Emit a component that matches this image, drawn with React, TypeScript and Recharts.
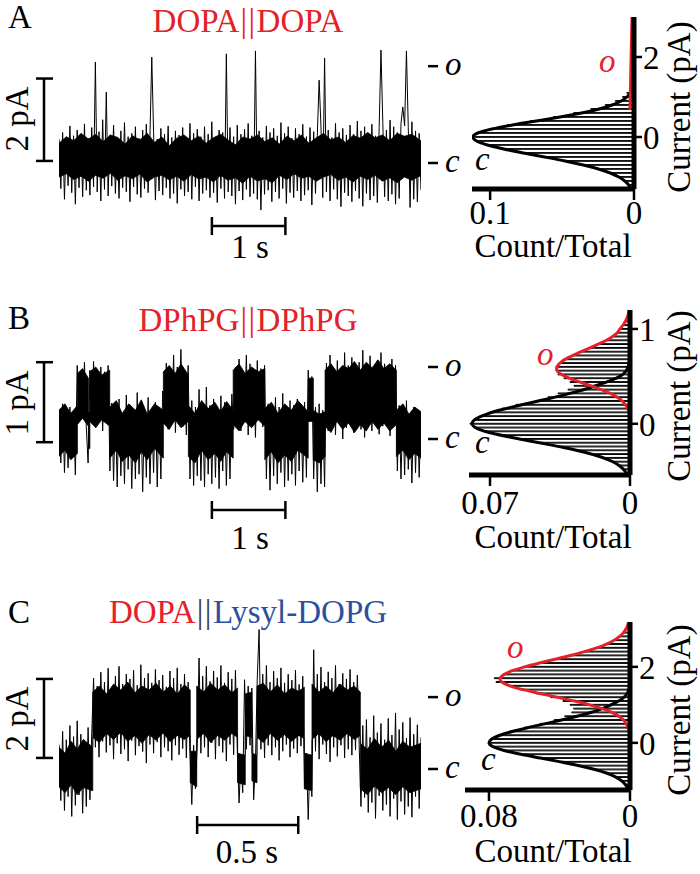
import React from 'react';
import { ComposedChart, Line, Area, Bar, XAxis, YAxis, ReferenceLine } from 'recharts';

const SERIF = "'Liberation Serif', 'Times New Roman', Times, 'DejaVu Serif', serif";
const RED = '#e42128';
const BLUE = '#2c509f';
const FS = 33;

// ---------------- Panel A : DOPA||DOPA ----------------
const A_DURATION = 4.925; // s
const A_OPEN_LEVEL = 2.35; // pA (level marked "o")
// noise extremes (hairs), sampled evenly over the trace
const A_TRACE = [
  0.58, -0.62, 0.74, -0.88, 0.62, -0.55, 0.90, -0.72, 0.66, -1.00,
  0.80, -0.60, 0.70, -0.82, 0.95, -0.66, 0.60, -0.78, 0.86, -0.58,
  2.45, -0.70, 0.76, -0.92, 1.05, -0.64, 1.72, -0.80, 0.68, -0.56,
  0.92, -0.74, 0.62, -0.86, 0.78, -0.60, 0.98, -0.70, 0.64, -0.94,
  0.72, -0.58, 0.88, -0.76, 0.60, -0.84, 0.80, -0.62, 0.94, -0.72,
  0.66, 2.57, 0.74, -0.90, 0.58, -0.68, 0.84, -0.78, 0.70, -0.60,
  0.90, -0.86, 0.62, -0.74, 0.78, -0.98, 0.68, -0.64, 0.86, -0.80,
  0.60, -0.70, 0.96, -0.88, 0.72, -0.58, 0.82, -0.92, 0.64, -0.74,
  0.88, -0.66, 0.70, -0.84, 1.00, -0.72, 0.62, -0.96, 0.80, -0.62,
  0.74, -0.86, 2.65, -0.70, 0.86, -0.80, 0.64, -1.00, 0.92, -0.68,
  0.70, -0.90, 0.82, -0.64, 0.96, -0.82, 0.66, -0.74, 2.72, -0.88,
  0.78, -1.14, 0.62, -0.76, 0.90, -0.66, 0.74, -0.94, 0.84, -0.70,
  0.66, -0.86, 0.98, -0.62, 0.72, -0.98, 0.88, -0.72, 0.60, -0.84,
  0.84, -0.68, 0.70, -0.92, 0.94, -0.78, 0.64, -0.66, 0.86, -1.02,
  0.76, -0.74, 0.66, 2.01, 0.90, -0.84, 2.55, -0.70, 0.80, -0.92,
  0.62, -0.64, 0.96, -0.88, 0.74, -1.06, 0.84, -0.72, 0.68, -0.80,
  0.92, -0.94, 0.70, -0.68, 1.02, -0.86, 0.78, -1.05, 0.88, -0.74,
  0.72, -0.90, 0.94, -0.80, 0.66, -0.96, 0.86, 2.74, 0.98, -0.82,
  0.80, -0.92, 1.04, -0.76, 0.88, -1.00, 0.74, -0.86, 0.96, 1.36,
  0.90, 2.72, 0.86, -1.08, 1.00, -0.88, 0.78, -0.94, 0.72, -0.66,
];
// solid (dense) part of the trace: [t (s), low edge, high edge]
const A_CORE: [number, number, number][] = [
  [0.0, -0.34, 0.48], [0.1, -0.26, 0.64], [0.2, -0.40, 0.54], [0.3, -0.32, 0.72], [0.4, -0.44, 0.58],
  [0.5, -0.30, 0.70], [0.6, -0.37, 0.52], [0.7, -0.25, 0.68], [0.8, -0.42, 0.62], [0.9, -0.31, 0.46],
  [1.0, -0.38, 0.66], [1.1, -0.27, 0.56], [1.2, -0.46, 0.72], [1.3, -0.34, 0.50], [1.4, -0.30, 0.63],
  [1.5, -0.41, 0.42], [1.6, -0.32, 0.60], [1.7, -0.44, 0.68], [1.8, -0.28, 0.54], [1.9, -0.39, 0.65],
  [2.0, -0.34, 0.48], [2.1, -0.46, 0.61], [2.2, -0.30, 0.70], [2.3, -0.42, 0.56], [2.4, -0.36, 0.44],
  [2.5, -0.49, 0.63], [2.6, -0.32, 0.58], [2.7, -0.44, 0.68], [2.8, -0.38, 0.52], [2.9, -0.48, 0.61],
  [3.0, -0.30, 0.46], [3.1, -0.40, 0.65], [3.2, -0.26, 0.54], [3.3, -0.37, 0.68], [3.4, -0.32, 0.48],
  [3.5, -0.44, 0.61], [3.6, -0.34, 0.72], [3.7, -0.28, 0.56], [3.8, -0.42, 0.63], [3.9, -0.34, 0.50],
  [4.0, -0.46, 0.67], [4.1, -0.32, 0.60], [4.2, -0.40, 0.74], [4.3, -0.30, 0.61], [4.4, -0.44, 0.68],
  [4.5, -0.36, 0.54], [4.6, -0.48, 0.72], [4.7, -0.34, 0.65], [4.8, -0.42, 0.70], [4.9, -0.32, 0.57],
  [4.925, -0.34, 0.54],
];
const A_HIST_CURRENT = [-1.2, -1.1, -1.0, -0.9, -0.8, -0.7, -0.6, -0.5, -0.4, -0.3, -0.2, -0.1, 0, 0.1, 0.2, 0.3, 0.4, 0.5, 0.6, 0.7, 0.8, 0.9, 1.0, 1.1, 1.2, 1.3];
const A_HIST_COUNT = [0.004, 0.006, 0.010, 0.016, 0.024, 0.034, 0.046, 0.060, 0.075, 0.089, 0.100, 0.108, 0.111, 0.108, 0.100, 0.088, 0.072, 0.056, 0.042, 0.030, 0.020, 0.013, 0.008, 0.005, 0.003, 0.001];
const A_FIT_C: [number, number][] = [
  [-1.3, 0.0021], [-1.2, 0.0037], [-1.1, 0.0064], [-1.0, 0.0105], [-0.9, 0.0165], [-0.8, 0.0247],
  [-0.7, 0.0352], [-0.6, 0.0479], [-0.5, 0.0621], [-0.4, 0.0768], [-0.3, 0.0905], [-0.2, 0.1019],
  [-0.1, 0.1094], [0, 0.112], [0.1, 0.1086], [0.2, 0.0988], [0.3, 0.0845], [0.4, 0.0679],
  [0.5, 0.0513], [0.6, 0.0364], [0.7, 0.0242], [0.8, 0.0152], [0.9, 0.0089], [1.0, 0.0049],
  [1.1, 0.0026], [1.2, 0.0012],
];
const A_FIT_O: [number, number][] = [[0.68, 0.0028], [1.0, 0.0026], [1.5, 0.0023], [2.0, 0.002], [2.5, 0.0017], [3.0, 0.0014]];

// ---------------- Panel B : DPhPG||DPhPG ----------------
const B_DURATION = 4.925;
const B_OPEN_LEVEL = 0.9;
const B_TRACE = [
  0.36, -0.30, 0.44, -0.42, 0.28, -0.36, 0.40, -0.24, 0.32, -0.45,
  0.92, 0.22, 0.80, 0.30, 0.96, 0.15, -0.30, 0.86, 0.25, 0.97,
  0.18, 0.78, 0.30, 0.90, 0.10, 0.84, 0.22, 0.92, -0.40, 0.45,
  -0.52, 0.38, -0.60, 0.50, -0.46, 0.30, -0.56, 0.55, -0.38, 0.42,
  -0.62, 0.34, -0.50, 0.58, -0.44, 0.40, -0.66, 0.36, -0.48, 0.52,
  -0.56, 0.30, -0.42, 0.46, -0.60, 0.38, -0.50, 0.60, 0.20, 0.95,
  0.12, 0.84, 0.25, 1.05, 0.08, 0.90, 0.30, 1.12, 0.15, 0.82,
  0.05, 0.92, -0.50, 0.48, -0.58, 0.40, -0.46, 0.62, -0.52, 0.36,
  -0.60, 0.65, -0.44, 0.42, -0.56, 0.50, -0.48, 0.38, -0.62, 0.54,
  -0.40, 0.46, -0.58, 0.34, -0.50, 0.56, 0.12, 0.90, 0.22, 1.00,
  0.10, 0.86, 0.28, 1.05, 0.05, 0.94, 0.18, 0.80, 0.02, 0.98,
  0.24, 0.88, 0.15, 0.92, -0.50, 0.44, -0.64, 0.36, -0.46, 0.52,
  -0.56, 0.40, -0.42, 0.57, -0.60, 0.34, -0.52, 0.48, -0.44, 0.42,
  -0.58, 0.50, -0.40, 0.38, -0.54, 0.46, -0.48, 0.86, 0.30, 0.78,
  -0.50, 0.40, -0.66, 0.44, -0.56, 0.36, -0.60, 0.95, 0.10, 1.05,
  0.18, 0.88, 0.05, 0.98, 0.22, 0.84, 0.00, 1.08, 0.14, 0.92,
  0.26, 1.02, 0.08, 0.86, 0.20, 0.96, 0.12, 1.11, 0.02, 0.90,
  0.18, 1.04, 0.10, 0.82, 0.24, 0.98, 0.06, 1.08, 0.16, 0.94,
  0.20, 0.88, 0.04, 1.00, 0.15, 0.92, -0.40, 0.42, -0.50, 0.34,
  -0.45, 0.48, -0.38, 0.30, -0.55, 0.40, -0.42, 0.36, -0.48, 0.32,
];
const B_CORE: [number, number, number][] = [
  [0, -0.22, 0.36], [0.08, -0.14, 0.44], [0.16, -0.26, 0.32], [0.25, -0.18, 0.42],
  [0.25, 0.18, 0.82], [0.32, 0.26, 0.88], [0.4, 0.16, 0.76],
  [0.4, -0.12, 0.34], [0.42, -0.12, 0.34],
  [0.42, 0.22, 0.84], [0.5, 0.14, 0.9], [0.58, 0.24, 0.8], [0.69, 0.16, 0.86],
  [0.69, -0.24, 0.4], [0.78, -0.14, 0.48], [0.86, -0.28, 0.32], [0.95, -0.2, 0.44], [1.04, -0.3, 0.36],
  [1.12, -0.16, 0.49], [1.2, -0.26, 0.31], [1.3, -0.12, 0.44], [1.42, -0.24, 0.36],
  [1.42, 0.2, 0.84], [1.5, 0.12, 0.92], [1.58, 0.24, 0.82], [1.66, 0.14, 0.94], [1.76, 0.22, 0.8],
  [1.76, -0.22, 0.42], [1.85, -0.3, 0.32], [1.94, -0.14, 0.48], [2.03, -0.26, 0.38], [2.12, -0.18, 0.46],
  [2.2, -0.28, 0.34], [2.28, -0.16, 0.47], [2.37, -0.24, 0.36],
  [2.37, 0.18, 0.86], [2.45, 0.1, 0.94], [2.53, 0.22, 0.82], [2.62, 0.14, 0.9], [2.71, 0.24, 0.84], [2.8, 0.16, 0.88],
  [2.8, -0.26, 0.38], [2.89, -0.16, 0.46], [2.98, -0.3, 0.32], [3.07, -0.2, 0.44], [3.16, -0.28, 0.36],
  [3.25, -0.14, 0.48], [3.39, -0.24, 0.34],
  [3.39, 0.22, 0.76], [3.46, 0.22, 0.76],
  [3.46, -0.26, 0.36], [3.54, -0.3, 0.31], [3.62, -0.22, 0.34],
  [3.62, 0.16, 0.86], [3.7, 0.08, 0.94], [3.78, 0.22, 0.84], [3.86, 0.12, 0.92], [3.94, 0.2, 0.88],
  [4.02, 0.08, 0.97], [4.1, 0.18, 0.86], [4.18, 0.1, 0.96], [4.26, 0.22, 0.89], [4.34, 0.12, 0.99],
  [4.42, 0.2, 0.88], [4.5, 0.1, 0.94], [4.59, 0.18, 0.86],
  [4.59, -0.22, 0.36], [4.68, -0.14, 0.44], [4.76, -0.26, 0.31], [4.84, -0.18, 0.4], [4.925, -0.24, 0.34],
];
const B_HIST_CURRENT = [-0.52, -0.48, -0.44, -0.40, -0.36, -0.32, -0.28, -0.24, -0.20, -0.16, -0.12, -0.08, -0.04, 0, 0.04, 0.08, 0.12, 0.16, 0.20, 0.24, 0.28, 0.32, 0.36, 0.40, 0.44, 0.48, 0.52, 0.56, 0.60, 0.64, 0.68, 0.72, 0.76, 0.80, 0.84, 0.88, 0.92, 0.96, 1.00, 1.04, 1.08, 1.12, 1.16];
const B_HIST_COUNT = [0.002, 0.003, 0.005, 0.009, 0.013, 0.019, 0.027, 0.036, 0.046, 0.056, 0.065, 0.073, 0.078, 0.080, 0.078, 0.075, 0.070, 0.064, 0.057, 0.047, 0.041, 0.036, 0.031, 0.028, 0.030, 0.033, 0.036, 0.037, 0.037, 0.035, 0.033, 0.029, 0.025, 0.020, 0.016, 0.012, 0.009, 0.006, 0.005, 0.0035, 0.002, 0.0012, 0.0006];
const B_FIT_C: [number, number][] = [
  [-0.55, 0.0012], [-0.5, 0.0025], [-0.45, 0.0048], [-0.4, 0.0086], [-0.35, 0.0145], [-0.3, 0.0227],
  [-0.25, 0.0332], [-0.2, 0.0454], [-0.15, 0.0578], [-0.1, 0.0688], [-0.05, 0.0763], [0, 0.079],
  [0.05, 0.0772], [0.1, 0.0719], [0.15, 0.0639], [0.2, 0.0541], [0.25, 0.0438], [0.3, 0.0338],
  [0.35, 0.0248], [0.4, 0.0174], [0.45, 0.0105], [0.5, 0.005], [0.55, 0.0022], [0.6, 0.001],
  [0.65, 0.0004], [0.7, 0.0002],
];
const B_FIT_O: [number, number][] = [
  [0.1, 0.0004], [0.15, 0.001], [0.2, 0.0022], [0.25, 0.0044], [0.3, 0.0079], [0.35, 0.0131],
  [0.4, 0.0195], [0.45, 0.0264], [0.5, 0.0324], [0.55, 0.0361], [0.58, 0.0367], [0.6, 0.0365],
  [0.65, 0.0345], [0.7, 0.0307], [0.75, 0.0256], [0.8, 0.02], [0.85, 0.0148], [0.9, 0.0102],
  [0.95, 0.0068], [1.0, 0.005], [1.05, 0.0032], [1.1, 0.0018], [1.15, 0.0009], [1.2, 0.0004],
];

// ---------------- Panel C : DOPA||Lysyl-DOPG ----------------
const C_DURATION = 1.79;
const C_OPEN_LEVEL = 1.82;
const C_TRACE = [
  0.62, -0.80, 0.95, -1.05, 0.74, -0.70, 1.10, -1.20, 0.82, -0.92,
  1.22, -0.66, 0.88, -1.12, 0.70, -0.95, 1.05, -0.78, 0.90, 2.30,
  0.55, 2.10, 0.30, 2.45, 0.70, 2.20, 0.42, 2.55, 0.60, 2.05,
  0.25, 2.35, 0.65, 2.60, 0.38, 2.15, 0.50, 2.40, 0.20, 2.28,
  0.72, 2.50, 0.35, 2.12, 0.58, 2.64, 0.44, 2.30, 0.15, 2.42,
  0.62, 2.18, 0.40, 2.52, 0.68, 2.25, 0.30, 2.38, 0.55, 2.08,
  0.45, 2.48, 0.22, 2.30, 0.60, 2.56, 0.36, 2.15, 0.52, 2.40,
  0.28, 2.20, 0.40, -0.90, 0.60, -0.50, 0.65, 2.81, 0.40, 2.35,
  0.55, 2.60, 0.30, 2.22, 0.66, 2.48, 0.25, 2.32, 0.58, 2.62,
  0.42, 2.18, 0.20, 2.45, 0.62, 2.28, 0.36, 2.50, 0.48, -0.86,
  0.30, -0.60, 2.26, 0.50, 2.10, 0.60, 2.05, -0.78, 0.20, 2.30,
  3.53, 0.50, 2.40, 0.28, 2.62, 0.60, 2.20, 0.35, 2.48, 0.55,
  2.30, 0.22, 2.56, 0.45, 2.18, 0.62, 2.40, 0.30, 2.25, 0.52,
  2.50, 0.40, 2.14, 0.58, 2.35, -0.50, 0.40, -1.28, 0.30, -0.70,
  3.02, 0.45, 2.40, 0.25, 2.58, 0.62, 2.20, 0.38, 2.46, 0.18,
  2.30, 0.55, 2.62, 0.32, 2.15, 0.60, 2.42, 0.28, 2.28, 0.50,
  2.52, 0.35, 2.20, 0.48, 2.38, 0.62, -0.95, 1.10, -0.72, 1.25,
  -1.10, 0.80, -0.85, 1.35, -1.25, 0.92, -0.68, 1.15, -1.05, 0.74,
  -0.90, 1.28, -1.20, 0.86, -0.75, 1.42, -1.28, 1.00, -0.82, 1.18,
  -1.15, 0.78, -0.95, 1.30, -1.22, 0.88, -0.70, 1.12, -1.00, 0.80,
];
const C_CORE: [number, number, number][] = [
  [0, -0.45, 0.55], [0.03, -0.6, 0.4], [0.06, -0.4, 0.7], [0.09, -0.65, 0.5], [0.12, -0.47, 0.75], [0.167, -0.55, 0.55],
  [0.167, 0.8, 1.95], [0.2, 0.67, 2.1], [0.235, 0.9, 1.9], [0.27, 0.75, 2.15], [0.305, 0.93, 2.0],
  [0.34, 0.7, 2.2], [0.375, 0.85, 1.93], [0.41, 0.65, 2.1], [0.445, 0.87, 2.0], [0.48, 0.73, 2.17],
  [0.515, 0.91, 1.95], [0.55, 0.69, 2.1], [0.585, 0.85, 1.9], [0.62, 0.75, 2.13], [0.649, 0.85, 2.0],
  [0.649, -0.35, 0.45], [0.681, -0.45, 0.45],
  [0.681, 0.75, 2.1], [0.715, 0.9, 1.95], [0.75, 0.67, 2.17], [0.785, 0.85, 2.0], [0.82, 0.73, 2.13],
  [0.855, 0.9, 1.93], [0.883, 0.8, 2.05],
  [0.883, -0.35, 0.4], [0.921, -0.4, 0.35],
  [0.921, 0.85, 1.9], [0.954, 0.8, 1.95],
  [0.954, -0.3, 0.4], [0.979, -0.35, 0.35],
  [0.979, 0.8, 2.1], [1.01, 0.67, 2.17], [1.045, 0.9, 1.95], [1.08, 0.73, 2.13], [1.115, 0.87, 1.9],
  [1.15, 0.7, 2.05], [1.185, 0.85, 1.97], [1.213, 0.77, 2.07],
  [1.213, -0.5, 0.4], [1.251, -0.55, 0.35],
  [1.251, 0.75, 2.15], [1.285, 0.9, 1.95], [1.32, 0.69, 2.1], [1.355, 0.85, 1.93], [1.39, 0.73, 2.15],
  [1.425, 0.9, 2.0], [1.46, 0.75, 2.1], [1.49, 0.85, 1.95],
  [1.49, -0.5, 0.65], [1.525, -0.65, 0.5], [1.56, -0.43, 0.77], [1.595, -0.6, 0.55], [1.63, -0.47, 0.73],
  [1.665, -0.65, 0.45], [1.7, -0.45, 0.7], [1.735, -0.6, 0.55], [1.79, -0.5, 0.65],
];
const C_HIST_CURRENT = [-1.2, -1.1, -1.0, -0.9, -0.8, -0.7, -0.6, -0.5, -0.4, -0.3, -0.2, -0.1, 0, 0.1, 0.2, 0.3, 0.4, 0.5, 0.6, 0.7, 0.8, 0.9, 1.0, 1.1, 1.2, 1.3, 1.4, 1.5, 1.6, 1.7, 1.8, 1.9, 2.0, 2.1, 2.2, 2.3, 2.4, 2.5, 2.6, 2.7, 2.8, 2.9, 3.0, 3.1];
const C_HIST_COUNT = [0.0015, 0.003, 0.005, 0.008, 0.013, 0.020, 0.029, 0.039, 0.050, 0.061, 0.071, 0.077, 0.080, 0.079, 0.075, 0.068, 0.060, 0.051, 0.043, 0.037, 0.033, 0.032, 0.034, 0.038, 0.045, 0.053, 0.062, 0.069, 0.076, 0.077, 0.072, 0.067, 0.060, 0.051, 0.042, 0.034, 0.026, 0.019, 0.013, 0.009, 0.006, 0.004, 0.002, 0.001];
const C_FIT_C: [number, number][] = [
  [-1.3, 0.0007], [-1.2, 0.0014], [-1.1, 0.0026], [-1.0, 0.0047], [-0.9, 0.008], [-0.8, 0.013],
  [-0.7, 0.0199], [-0.6, 0.0288], [-0.5, 0.0394], [-0.4, 0.0508], [-0.3, 0.062], [-0.2, 0.0714],
  [-0.1, 0.0778], [0, 0.08], [0.1, 0.0784], [0.2, 0.0738], [0.3, 0.0668], [0.4, 0.0581],
  [0.5, 0.0485], [0.6, 0.0389], [0.7, 0.03], [0.8, 0.0222], [0.9, 0.0158], [1.0, 0.0108],
  [1.1, 0.0065], [1.2, 0.0035], [1.3, 0.0016], [1.4, 0.0007], [1.5, 0.0003],
];
const C_FIT_O: [number, number][] = [
  [0.3, 0.0006], [0.4, 0.0011], [0.5, 0.0021], [0.6, 0.0037], [0.7, 0.0063], [0.8, 0.0102],
  [0.9, 0.0157], [1.0, 0.0228], [1.1, 0.0314], [1.2, 0.0412], [1.3, 0.0513], [1.4, 0.0607],
  [1.5, 0.0682], [1.6, 0.0727], [1.675, 0.0738], [1.8, 0.0715], [1.9, 0.0667], [2.0, 0.0597],
  [2.1, 0.0514], [2.2, 0.0425], [2.3, 0.0338], [2.4, 0.0258], [2.5, 0.0189], [2.6, 0.0133],
  [2.7, 0.009], [2.8, 0.0059], [2.9, 0.0037], [3.0, 0.0022], [3.1, 0.0013], [3.2, 0.0007],
];

// ---------------- layout (pixels) ----------------
const TRACE_LAYOUT = {
  A: { top: 0, height: 290, zeroY: 163, pxPerPA: 41.2, yMin: -2.0, yMax: 3.0,
    vBar: { t: -0.204, from: 0.05, len: 2, cap: [-0.313, -0.082] },
    tBar: { from: 2.08, len: 1, v: -1.53, cap: [-1.31, -1.75] } },
  B: { top: 290, height: 290, zeroY: 439, pxPerPA: 80, yMin: -1.0, yMax: 1.3,
    vBar: { t: -0.204, from: -0.04, len: 1, cap: [-0.313, -0.082] },
    tBar: { from: 2.08, len: 1, v: -0.8875, cap: [-0.775, -1.0] } },
  C: { top: 580, height: 294, zeroY: 769, pxPerPA: 39.5, yMin: -1.8, yMax: 3.7,
    vBar: { t: -0.0743, from: 0.28, len: 2, cap: [-0.114, -0.0297] },
    tBar: { from: 0.683, len: 0.5, v: -1.418, cap: [-1.19, -1.646] } },
};

const HIST_LAYOUT = {
  A: { top: 0, height: 290, plotTop: 17, plotBottom: 189, plotLeft: 472, plotRight: 634,
    yMin: -1.3, yMax: 3.0, xMax: 0.1126, xTick: 0.1, yTicks: [0, 2], barPx: 3.9, xTickMargin: 1 },
  B: { top: 290, height: 290, plotTop: 310, plotBottom: 475, plotLeft: 469, plotRight: 630,
    yMin: -0.54, yMax: 1.2, xMax: 0.0805, xTick: 0.07, yTicks: [0, 1], barPx: 3.7, xTickMargin: 5 },
  C: { top: 580, height: 294, plotTop: 622, plotBottom: 790, plotLeft: 465, plotRight: 630,
    yMin: -1.24, yMax: 3.18, xMax: 0.0936, xTick: 0.08, yTicks: [0, 2], barPx: 3.7, xTickMargin: 3 },
};

const LevelTick = (props: any) => {
  const { x, y, payload } = props;
  const label = payload.value === 0 ? 'c' : 'o';
  return (
    <g>
      <line x1={x + 7} x2={x + 17} y1={y} y2={y} stroke="#000" strokeWidth={2.5} />
      <text x={x + 24} y={y + 9} fontSize={FS} fontStyle="italic" fontFamily={SERIF}
        style={{ fontFamily: SERIF }} fill="#000">{label}</text>
    </g>
  );
};

function Trace({ cfg, values, core, duration, openLevel }: any) {
  const zig = values.map((v: number, i: number) => ({ t: (i * duration) / (values.length - 1), v }));
  const band = core.map(([t, lo, hi]: number[]) => ({ t, band: [lo, hi] }));
  const plotTop = cfg.zeroY - cfg.yMax * cfg.pxPerPA;
  const plotBottom = cfg.zeroY - cfg.yMin * cfg.pxPerPA;
  const margin = { top: plotTop - cfg.top, bottom: cfg.top + cfg.height - plotBottom, left: 59, right: 0 };
  const vb = cfg.vBar;
  const tb = cfg.tBar;
  const bar = { stroke: '#000', strokeWidth: 2.5, ifOverflow: 'visible' as const };
  return (
    <div style={{ position: 'absolute', left: 0, top: cfg.top }}>
      <ComposedChart width={480} height={cfg.height} margin={margin}>
        <XAxis type="number" dataKey="t" domain={[0, duration]} hide allowDataOverflow />
        <YAxis type="number" orientation="right" width={59} domain={[cfg.yMin, cfg.yMax]}
          ticks={[0, openLevel]} interval={0} axisLine={false} tickLine={false} tickSize={0} tickMargin={0}
          tick={(p: any) => <LevelTick {...p} />} allowDataOverflow />
        <Line data={zig} dataKey="v" type="linear" stroke="#000" strokeWidth={1} dot={false}
          activeDot={false} isAnimationActive={false} />
        <Area data={band} dataKey="band" type="linear" stroke="#000" strokeWidth={0.8} fill="#000" fillOpacity={1}
          isAnimationActive={false} dot={false} activeDot={false} />
        <ReferenceLine segment={[{ x: vb.t, y: vb.from }, { x: vb.t, y: vb.from + vb.len }]} {...bar} />
        <ReferenceLine segment={[{ x: vb.cap[0], y: vb.from }, { x: vb.cap[1], y: vb.from }]} {...bar} />
        <ReferenceLine segment={[{ x: vb.cap[0], y: vb.from + vb.len }, { x: vb.cap[1], y: vb.from + vb.len }]} {...bar} />
        <ReferenceLine segment={[{ x: tb.from, y: tb.v }, { x: tb.from + tb.len, y: tb.v }]} {...bar} />
        <ReferenceLine segment={[{ x: tb.from, y: tb.cap[0] }, { x: tb.from, y: tb.cap[1] }]} {...bar} />
        <ReferenceLine segment={[{ x: tb.from + tb.len, y: tb.cap[0] }, { x: tb.from + tb.len, y: tb.cap[1] }]} {...bar} />
      </ComposedChart>
    </div>
  );
}

function Hist({ cfg, currents, counts, fitC, fitO }: any) {
  const data = currents.map((pA: number, i: number) => ({ pA, count: counts[i] }));
  const cData = fitC.map(([pA, count]: number[]) => ({ pA, count }));
  const oData = fitO.map(([pA, count]: number[]) => ({ pA, count }));
  const xAxisH = 40;
  const margin = {
    top: cfg.plotTop - cfg.top,
    left: cfg.plotLeft - 440,
    right: 0,
    bottom: cfg.top + cfg.height - cfg.plotBottom - xAxisH,
  };
  const tickStyle = { fontSize: FS, fontFamily: SERIF, fill: '#000', style: { fontFamily: SERIF } };
  return (
    <div style={{ position: 'absolute', left: 440, top: cfg.top }}>
      <ComposedChart layout="vertical" width={260} height={cfg.height} margin={margin} data={data}
        barCategoryGap={0} barGap={0}>
        <XAxis type="number" domain={[0, cfg.xMax]} reversed ticks={[0, cfg.xTick]} interval={0}
          height={xAxisH} allowDataOverflow axisLine={{ stroke: '#000', strokeWidth: 5 }}
          tickLine={{ stroke: '#000', strokeWidth: 2.5 }} tickSize={11} tickMargin={cfg.xTickMargin}
          tick={tickStyle} tickFormatter={(v: number) => String(v)} />
        <YAxis type="number" dataKey="pA" orientation="right" reversed width={700 - cfg.plotRight}
          domain={[cfg.yMin, cfg.yMax]} ticks={cfg.yTicks} interval={0} allowDataOverflow
          axisLine={{ stroke: '#000', strokeWidth: 5 }} tickLine={{ stroke: '#000', strokeWidth: 2.5 }}
          tickSize={8} tickMargin={1} tick={tickStyle} tickFormatter={(v: number) => String(v)} />
        <Bar dataKey="count" fill="#fff" stroke="#000" strokeWidth={1} barSize={cfg.barPx}
          isAnimationActive={false} />
        <Line data={cData} dataKey="count" type="monotone" stroke="#000" strokeWidth={3} dot={false}
          activeDot={false} isAnimationActive={false} />
        <Line data={oData} dataKey="count" type="monotone" stroke={RED} strokeWidth={3} dot={false}
          activeDot={false} isAnimationActive={false} />
      </ComposedChart>
    </div>
  );
}

const T = (p: any) => (
  <text fontFamily={SERIF} fontSize={FS} fill="#000" style={{ fontFamily: SERIF }} {...p} />
);

const Bars = ({ fill }: { fill: string }) => (
  <tspan fill={fill} dx={1} letterSpacing={1.5}>||</tspan>
);

function Overlay() {
  return (
    <svg width={700} height={874} style={{ position: 'absolute', left: 0, top: 0, pointerEvents: 'none' }}>
      {/* Panel A */}
      <T x={8} y={28}>A</T>
      <T x={248} y={32} textAnchor="middle" fill={RED}>
        <tspan>DOPA</tspan><Bars fill={RED} /><tspan>DOPA</tspan>
      </T>
      <T x={28} y={119} textAnchor="middle" transform="rotate(-90 28 119)">2 pA</T>
      <T x={250} y={258} textAnchor="middle">1 s</T>
      <T x={475} y={170} fontStyle="italic">c</T>
      <T x={599} y={72} fontStyle="italic" fill={RED}>o</T>
      <T x={553} y={257} textAnchor="middle">Count/Total</T>
      <T x={690} y={107} textAnchor="middle" transform="rotate(-90 690 107)">Current (pA)</T>

      {/* Panel B */}
      <T x={8} y={329}>B</T>
      <T x={248} y={331} textAnchor="middle" fill={RED}>
        <tspan>DPhPG</tspan><Bars fill={RED} /><tspan>DPhPG</tspan>
      </T>
      <T x={28} y={403} textAnchor="middle" transform="rotate(-90 28 403)">1 pA</T>
      <T x={250} y={549} textAnchor="middle">1 s</T>
      <T x={475} y={453} fontStyle="italic">c</T>
      <T x={537} y={365} fontStyle="italic" fill={RED}>o</T>
      <T x={553} y={548} textAnchor="middle">Count/Total</T>
      <T x={690} y={396} textAnchor="middle" transform="rotate(-90 690 396)">Current (pA)</T>

      {/* Panel C */}
      <T x={8} y={623}>C</T>
      <T x={248} y={623} textAnchor="middle">
        <tspan fill={RED}>DOPA</tspan><Bars fill="#3a3a3a" /><tspan fill={BLUE}>Lysyl-DOPG</tspan>
      </T>
      <T x={28} y={719} textAnchor="middle" transform="rotate(-90 28 719)">2 pA</T>
      <T x={247} y={863} textAnchor="middle">0.5 s</T>
      <T x={481} y={770} fontStyle="italic">c</T>
      <T x={507} y={658} fontStyle="italic" fill={RED}>o</T>
      <T x={553} y={862} textAnchor="middle">Count/Total</T>
      <T x={690} y={710} textAnchor="middle" transform="rotate(-90 690 710)">Current (pA)</T>
    </svg>
  );
}

export default function App() {
  return (
    <div style={{ position: 'absolute', left: 0, top: 0, width: 700, height: 874, background: '#fff', overflow: 'hidden' }}>
      <Trace cfg={TRACE_LAYOUT.A} values={A_TRACE} core={A_CORE} duration={A_DURATION} openLevel={A_OPEN_LEVEL} />
      <Trace cfg={TRACE_LAYOUT.B} values={B_TRACE} core={B_CORE} duration={B_DURATION} openLevel={B_OPEN_LEVEL} />
      <Trace cfg={TRACE_LAYOUT.C} values={C_TRACE} core={C_CORE} duration={C_DURATION} openLevel={C_OPEN_LEVEL} />
      <Hist cfg={HIST_LAYOUT.A} currents={A_HIST_CURRENT} counts={A_HIST_COUNT} fitC={A_FIT_C} fitO={A_FIT_O} />
      <Hist cfg={HIST_LAYOUT.B} currents={B_HIST_CURRENT} counts={B_HIST_COUNT} fitC={B_FIT_C} fitO={B_FIT_O} />
      <Hist cfg={HIST_LAYOUT.C} currents={C_HIST_CURRENT} counts={C_HIST_COUNT} fitC={C_FIT_C} fitO={C_FIT_O} />
      <Overlay />
    </div>
  );
}
